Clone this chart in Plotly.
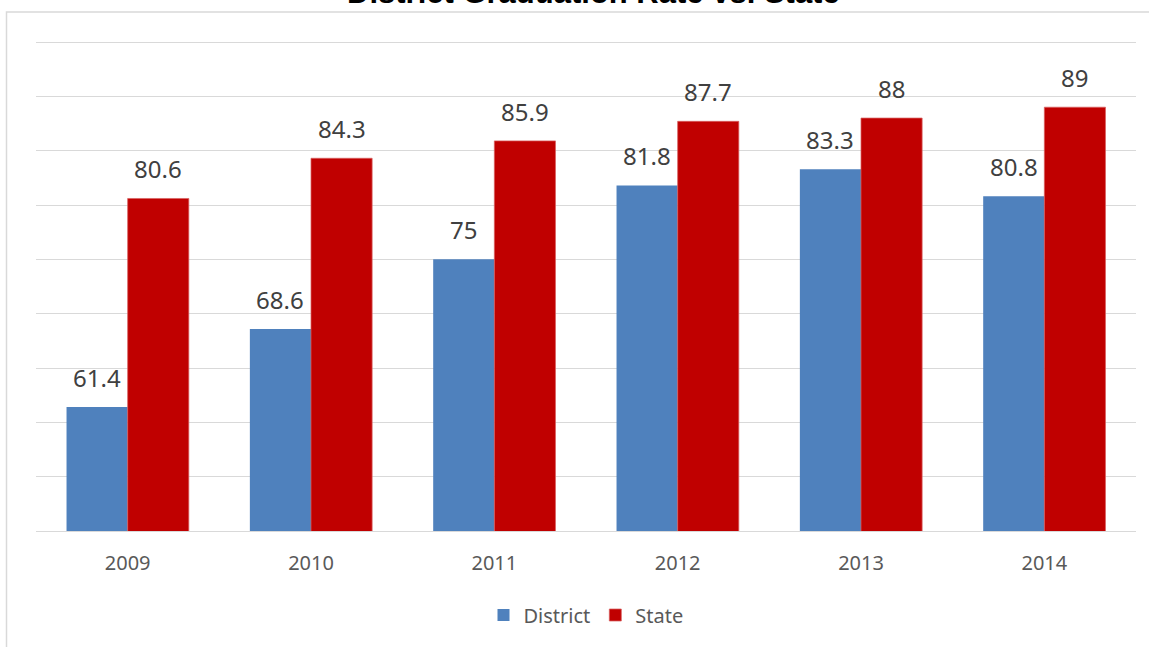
import plotly.graph_objects as go

# Graduation rates by school year
years = ["2009", "2010", "2011", "2012", "2013", "2014"]
district = [61.4, 68.6, 75, 81.8, 83.3, 80.8]
state = [80.6, 84.3, 85.9, 87.7, 88, 89]

district_color = "#4F81BD"
state_color = "#C00000"
label_font = dict(family="Noto Sans, Open Sans, sans-serif", size=24, color="#404040")
bargap = 0.333

fig = go.Figure()
fig.add_trace(go.Bar(
    name="District", x=years, y=district,
    marker=dict(color=district_color, line=dict(width=0)),
))
fig.add_trace(go.Bar(
    name="State", x=years, y=state,
    marker=dict(color=state_color, line=dict(color="#d86060", width=0.75)),
))

# value labels above each bar, centred on the bar within its group
half = (1 - bargap) / 4
for i, (d, s) in enumerate(zip(district, state)):
    for val, off in ((d, -half), (s, half)):
        fig.add_annotation(
            x=i + off, y=val, xref="x", yref="y",
            text=f"{val:g}", showarrow=False,
            yanchor="bottom", xanchor="center", yshift=11,
            font=label_font,
        )

# plot-area geometry in pixels: baseline at 531, 95% gridline at 42
L, W = 36, 1100
BASE = 531
PX_PER_UNIT = (BASE - 42) / 45
T = 38
H = BASE - T
y_top = 50 + H / PX_PER_UNIT

def px_x(p):
    return (p - L) / W
def px_y(p):
    return (BASE - p) / H

# chart title, partly above the top edge of the page
fig.add_annotation(
    text="<b>District Graduation Rate vs. State</b>",
    xref="paper", yref="paper", x=px_x(593), y=px_y(12),
    xanchor="center", yanchor="bottom", showarrow=False,
    font=dict(family="Liberation Sans, Arial, sans-serif", size=31, color="#000000"),
)

# light grey frame around the chart
fig.add_shape(
    type="rect", xref="paper", yref="paper",
    x0=px_x(6.5), x1=px_x(1170), y0=px_y(670), y1=px_y(12),
    line=dict(color="#d9d9d9", width=1.5), fillcolor="rgba(0,0,0,0)",
    layer="below",
)

fig.update_layout(
    width=1149, height=647,
    margin=dict(l=L, r=1149 - L - W, t=T, b=647 - BASE),
    paper_bgcolor="white", plot_bgcolor="white",
    barmode="group", bargap=bargap, bargroupgap=0,
    showlegend=True,
    legend=dict(
        orientation="h", x=0.5, xanchor="center", y=px_y(615), yanchor="middle",
        font=dict(family="Noto Sans, Open Sans, sans-serif", size=20, color="#595959"),
        bgcolor="rgba(0,0,0,0)",
    ),
    xaxis=dict(
        type="category", showgrid=False, zeroline=False,
        showline=True, linecolor="#d9d9d9", linewidth=1,
        ticks="", ticklabelstandoff=14,
        tickfont=dict(family="Noto Sans, Open Sans, sans-serif", size=20, color="#595959"),
    ),
    yaxis=dict(
        range=[50, y_top], dtick=5, tick0=50,
        showgrid=True, gridcolor="#d9d9d9", gridwidth=1,
        zeroline=False, showticklabels=False, ticks="", showline=False,
    ),
)

fig.write_html("out.html")
